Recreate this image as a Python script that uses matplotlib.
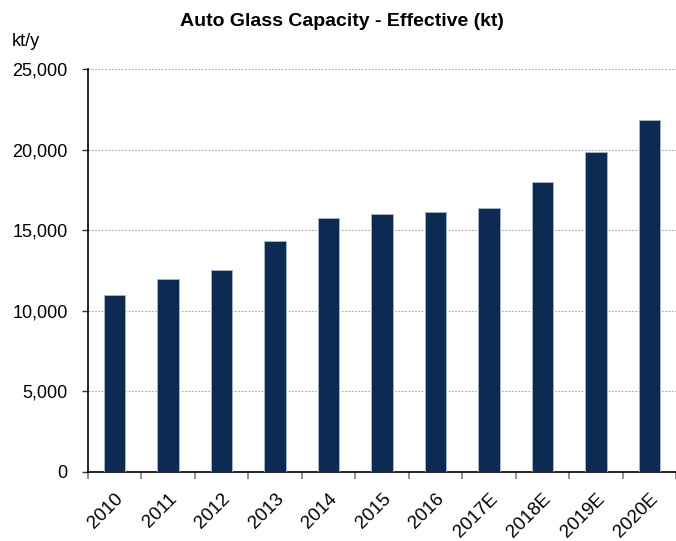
import matplotlib
matplotlib.use("Agg")
import matplotlib.pyplot as plt
import numpy as np
from matplotlib.ticker import FuncFormatter, FixedLocator

categories = ["2010", "2011", "2012", "2013", "2014", "2015", "2016",
              "2017E", "2018E", "2019E", "2020E"]
values = [11000, 12000, 12550, 14350, 15780, 15990, 16130, 16380, 18000, 19860, 21830]
yticks = [0, 5000, 10000, 15000, 20000, 25000]

FONT = ["Liberation Sans Narrow", "Liberation Sans", "DejaVu Sans"]
plt.rcParams["font.family"] = FONT

fig = plt.figure(figsize=(6.76, 5.41), dpi=100)
ax = fig.add_axes([88 / 676, 1 - 472 / 541, 1 - 88 / 676, (472 - 69) / 541])

x = np.arange(len(categories))
ax.bar(x, values, width=0.40, color="#0C2A52", edgecolor="#A8B6CA", linewidth=0.6, zorder=3)

ax.set_xlim(-0.5, len(categories) - 0.5)
ax.set_ylim(0, 25000)
ax.set_yticks(yticks)
ax.yaxis.set_major_formatter(FuncFormatter(lambda v, p: f"{int(v):,}"))
ax.grid(axis="y", color="#a8a8a8", linestyle=(0, (1.5, 1.5)), linewidth=0.8, zorder=0)

ax.set_xticks(x)
ax.set_xticklabels(categories, rotation=45, ha="right", va="top", rotation_mode="anchor")
ax.xaxis.set_minor_locator(FixedLocator(np.arange(-0.5, len(categories), 1.0)))
ax.tick_params(axis="x", which="major", length=0, pad=13, labelsize=13.5)
ax.tick_params(axis="x", which="minor", length=5, width=1.2, color="#7f7f7f", direction="out")
ax.tick_params(axis="y", which="major", length=4.5, width=1.0, color="#333333", pad=10, labelsize=13)

for s in ["top", "right"]:
    ax.spines[s].set_visible(False)
ax.spines["left"].set_linewidth(1.2)
ax.spines["bottom"].set_linewidth(1.2)

fig.text(342 / 676, 1 - 22 / 541, "Auto Glass Capacity - Effective (kt)", ha="center", va="center",
         fontsize=14, fontweight="bold")
fig.text(12 / 676, 1 - 42 / 541, "kt/y", ha="left", va="center", fontsize=13)

fig.savefig("out.png", dpi=100)
